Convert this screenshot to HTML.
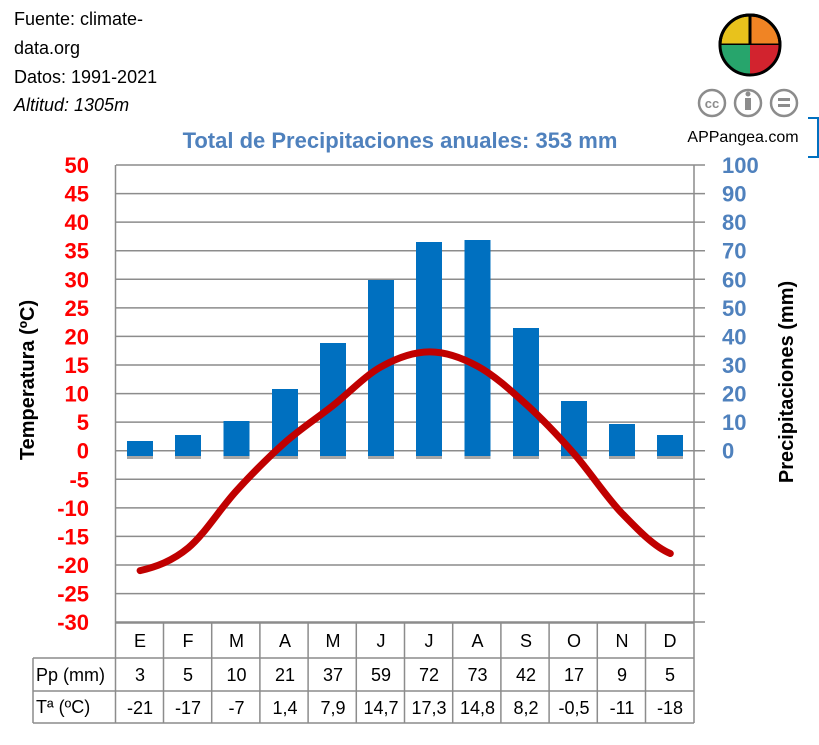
<!DOCTYPE html><html><head><meta charset="utf-8"><style>body{margin:0;background:#fff}svg{display:block;font-family:"Liberation Sans",sans-serif}</style></head><body>
<svg width="819" height="745" viewBox="0 0 819 745">
<g font-size="18" fill="#000"><text x="14" y="25">Fuente: climate-</text><text x="14" y="54">data.org</text><text x="14" y="83">Datos: 1991-2021</text><text x="14" y="111" font-style="italic">Altitud: 1305m</text></g>
<g stroke="#000" stroke-width="3">
<path d="M750,45 L750,15 A30,30 0 0,0 720,45Z" fill="#e8c21c"/><path d="M750,45 L780,45 A30,30 0 0,0 750,15Z" fill="#f08424"/><path d="M750,45 L720,45 A30,30 0 0,0 750,75Z" fill="#27a56c" stroke="none"/><path d="M750,45 L750,75 A30,30 0 0,0 780,45Z" fill="#d2232e" stroke="none"/><circle cx="750" cy="45" r="30" fill="none"/></g>
<g fill="none" stroke="#8c8c8c" stroke-width="2.5"><circle cx="712" cy="103" r="13"/><circle cx="748" cy="103" r="13"/><circle cx="784" cy="103" r="13"/></g>
<text x="712" y="108" font-size="13" font-weight="bold" fill="#8c8c8c" text-anchor="middle">cc</text><rect x="745" y="98" width="6" height="12" fill="#8c8c8c"/><circle cx="748" cy="94" r="2.5" fill="#8c8c8c"/><rect x="778" y="98" width="12" height="3" fill="#8c8c8c"/><rect x="778" y="104" width="12" height="3" fill="#8c8c8c"/>
<text x="743" y="142" font-size="16" text-anchor="middle">APPangea.com</text>
<path d="M808,118 H818 V157 H808" fill="none" stroke="#0070c0" stroke-width="2"/>
<text x="400" y="148" font-size="22" font-weight="bold" fill="#4f81bd" text-anchor="middle">Total de Precipitaciones anuales: 353 mm</text>
<g stroke="#8c8c8c" stroke-width="1.5">
<path d="M116,165H705M116,193.6H705M116,222.1H705M116,250.7H705M116,279.3H705M116,307.9H705M116,336.4H705M116,365H705M116,393.6H705M116,422.1H705M116,450.7H705M116,479.3H705M116,507.9H705M116,536.4H705M116,565H705M116,593.6H705M116,622H705"/>
<path d="M115.5,165V622M694,165V622"/>
<path d="M116,623H694M33,658H694M33,691H694M33,723H694M33,658V723M115.5,622V723M163.5,622V723M211.7,622V723M259.9,622V723M308.1,622V723M356.3,622V723M404.5,622V723M452.7,622V723M500.9,622V723M549.1,622V723M597.3,622V723M645.5,622V723M694,622V723"/>
</g>
<g fill="#a6a6a6"><rect x="127" y="456" width="26" height="3"/><rect x="175" y="456" width="26" height="3"/><rect x="223.5" y="456" width="26" height="3"/><rect x="272" y="456" width="26" height="3"/><rect x="320" y="456" width="26" height="3"/><rect x="368" y="456" width="26" height="3"/><rect x="416" y="456" width="26" height="3"/><rect x="464.5" y="456" width="26" height="3"/><rect x="513" y="456" width="26" height="3"/><rect x="561" y="456" width="26" height="3"/><rect x="609" y="456" width="26" height="3"/><rect x="657" y="456" width="26" height="3"/></g>
<g fill="#0070c0">
<rect x="127" y="441" width="26" height="15"/><rect x="175" y="435" width="26" height="21"/><rect x="223.5" y="421" width="26" height="35"/><rect x="272" y="389" width="26" height="67"/><rect x="320" y="343" width="26" height="113"/><rect x="368" y="280" width="26" height="176"/><rect x="416" y="242" width="26" height="214"/><rect x="464.5" y="240" width="26" height="216"/><rect x="513" y="328" width="26" height="128"/><rect x="561" y="401" width="26" height="55"/><rect x="609" y="424" width="26" height="32"/><rect x="657" y="435" width="26" height="21"/></g>
<path d="M140.1,570.6 C156.2,566.8 172.2,561.1 188.3,547.8 C204.4,534.5 220.4,508.2 236.5,490.7 C252.6,473.2 268.6,456.9 284.7,442.7 C300.8,428.5 316.8,418.3 332.9,405.6 C349,392.95 365,375.75 381.1,366.8 C397.2,357.85 413.2,352 429.3,351.9 C445.4,351.8 461.4,357.5 477.5,366.2 C493.6,374.9 509.6,389.3 525.7,403.9 C541.8,418.5 557.8,435.3 573.9,453.6 C590,471.9 606,496.9 622.1,513.5 C638.2,530.1 654.2,546.8 670.3,553.5" fill="none" stroke="#c00000" stroke-width="7" stroke-linecap="round"/>
<g font-size="22" font-weight="bold" fill="#ff0000" text-anchor="end">
<text x="89" y="173">50</text><text x="89" y="201.6">45</text><text x="89" y="230.1">40</text><text x="89" y="258.7">35</text><text x="89" y="287.3">30</text><text x="89" y="315.9">25</text><text x="89" y="344.4">20</text><text x="89" y="373">15</text><text x="89" y="401.6">10</text><text x="89" y="430.1">5</text><text x="89" y="458.7">0</text><text x="89" y="487.3">-5</text><text x="89" y="515.9">-10</text><text x="89" y="544.4">-15</text><text x="89" y="573">-20</text><text x="89" y="601.6">-25</text><text x="89" y="630">-30</text></g>
<g font-size="22" font-weight="bold" fill="#4f81bd">
<text x="722" y="173">100</text><text x="722" y="201.6">90</text><text x="722" y="230.1">80</text><text x="722" y="258.7">70</text><text x="722" y="287.3">60</text><text x="722" y="315.9">50</text><text x="722" y="344.4">40</text><text x="722" y="373">30</text><text x="722" y="401.6">20</text><text x="722" y="430.1">10</text><text x="722" y="458.7">0</text></g>
<text transform="translate(34,380) rotate(-90)" font-size="20" font-weight="bold" text-anchor="middle">Temperatura (ºC)</text>
<text transform="translate(793,382) rotate(-90)" font-size="20" font-weight="bold" text-anchor="middle">Precipitaciones (mm)</text>
<g font-size="18" text-anchor="middle">
<text x="140" y="647">E</text><text x="188" y="647">F</text><text x="236.5" y="647">M</text><text x="285" y="647">A</text><text x="333" y="647">M</text><text x="381" y="647">J</text><text x="429" y="647">J</text><text x="477.5" y="647">A</text><text x="526" y="647">S</text><text x="574" y="647">O</text><text x="622" y="647">N</text><text x="670" y="647">D</text>
<text x="140" y="681">3</text><text x="188" y="681">5</text><text x="236.5" y="681">10</text><text x="285" y="681">21</text><text x="333" y="681">37</text><text x="381" y="681">59</text><text x="429" y="681">72</text><text x="477.5" y="681">73</text><text x="526" y="681">42</text><text x="574" y="681">17</text><text x="622" y="681">9</text><text x="670" y="681">5</text>
<text x="140" y="714">-21</text><text x="188" y="714">-17</text><text x="236.5" y="714">-7</text><text x="285" y="714">1,4</text><text x="333" y="714">7,9</text><text x="381" y="714">14,7</text><text x="429" y="714">17,3</text><text x="477.5" y="714">14,8</text><text x="526" y="714">8,2</text><text x="574" y="714">-0,5</text><text x="622" y="714">-11</text><text x="670" y="714">-18</text>
</g>
<text x="36" y="681" font-size="18">Pp (mm)</text><text x="36" y="713" font-size="18">Tª (ºC)</text>
</svg></body></html>
